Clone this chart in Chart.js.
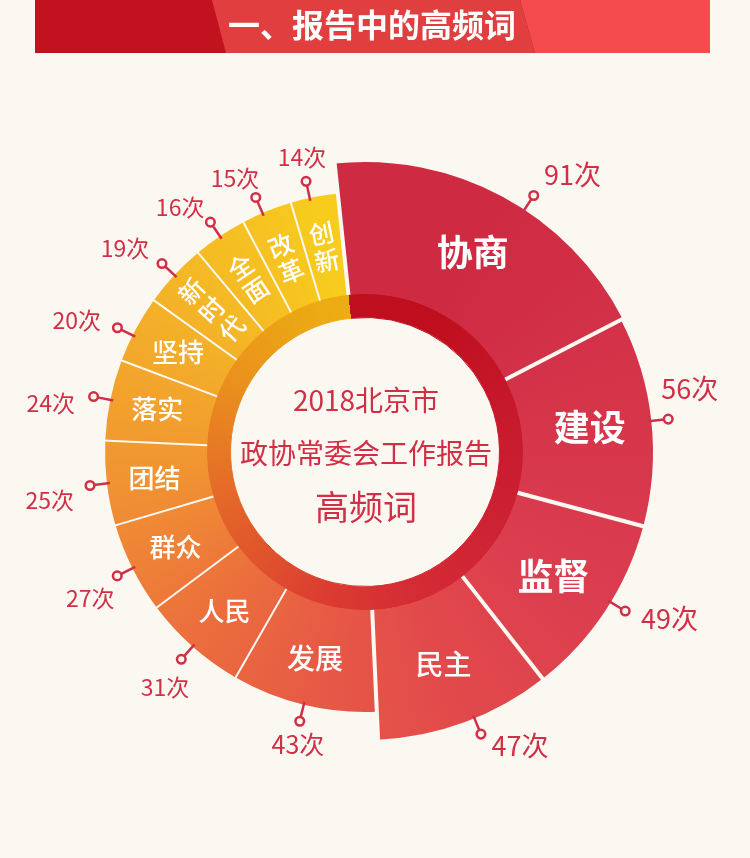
<!DOCTYPE html>
<html>
<head>
<meta charset="utf-8">
<script src="https://cdn.jsdelivr.net/npm/chart.js@4.4.1/dist/chart.umd.min.js"></script>
<style>
html,body{margin:0;padding:0;background:#FBF8F2;}
canvas{display:block;}
</style>
</head>
<body>
<canvas id="c" width="750" height="858"></canvas>
<script>
// ---- data ----
const words = ['协商','建设','监督','民主','发展','人民','群众','团结','落实','坚持','新时代','全面','改革','创新'];
const counts = [91,56,49,47,43,31,27,25,24,20,19,16,15,14];
const countLabels = counts.map(v => v + '次');
const centerLines = ['2018北京市','政协常委会工作报告','高频词'];
const headerTitle = '一、报告中的高频词';

// ---- styles ----
const BG = '#FBF8F2';
const RED_TEXT = '#D12F46';
const FONT = '"Noto Sans CJK SC","Noto Sans",sans-serif';
const sliceColors = ['#CE2B43','#D6354A','#DB3E4F','#E2494B','#E75B45','#EB6D3D','#EE8137','#F09332','#F2A12D','#F3AC2A','#F4B626','#F5BE23','#F6C520','#F7CC1D'];
const ringColors  = ['#BF0F1F','#C81B2E','#CE2334','#D42B35','#DB3B31','#E0512D','#E3612A','#E57226','#E88222','#EA901E','#EB9A1A','#EBA216','#ECA814','#EDAD12'];
const EMPHASIS = 4;              // top words drawn with a larger outer radius
const R_CENTER = 134.5, R_RING = 158, R_MAIN = 288, R_SMALL = 260;
const ROTATION = -6;
const markerShift = [5,0,-2,-2,0,0,0,0,0,-1.5,0,0,-1,-1];
const textShift   = [8.5,-4.9,-4.8,-7.5,-0.7,-1.2,-1.4,-1.8,-2.8,-3.6,-2.5,-3.1,-3.2,-0.8];
const textGap     = [56,43,59,44,40,49,51,59,58,57,55,47,43,41];
const DEG = Math.PI / 180;

// conic gradient through the slice colours, stops at each slice's middle
const gradCache = {};
function conic(chart, colors, key) {
  const a = chart.chartArea;
  if (!a) return colors[0];
  const k = key + a.left + ',' + a.top;
  if (gradCache[k]) return gradCache[k];
  const cx = (a.left + a.right) / 2, cy = (a.top + a.bottom) / 2;
  const total = counts.reduce((s, v) => s + v, 0);
  const g = chart.ctx.createConicGradient((ROTATION - 90) * DEG, cx, cy);
  let cum = 0;
  g.addColorStop(0, colors[0]);
  counts.forEach((v, i) => {
    g.addColorStop((cum + v / 2) / total, colors[i]);
    cum += v;
  });
  g.addColorStop(1, colors[colors.length - 1]);
  gradCache[k] = g;
  return g;
}

const geometry = {
  id: 'geometry',
  afterDatasetUpdate(chart, args) {
    const meta = chart.getDatasetMeta(args.index);
    meta.data.forEach((arc, i) => {
      if (args.index === 0) {
        arc.innerRadius = R_RING;
        arc.outerRadius = i < EMPHASIS ? (i === 0 ? R_MAIN + 2 : R_MAIN) : R_SMALL;
      } else {
        arc.innerRadius = R_CENTER;
        arc.outerRadius = R_RING + 0.5;
      }
    });
  }
};

const decor = {
  id: 'decor',
  beforeDraw(chart) {
    const c = chart.ctx;
    c.save();
    c.fillStyle = BG;
    c.fillRect(0, 0, chart.width, chart.height);
    // header banner
    c.fillStyle = '#C3121F';
    c.fillRect(35, 0, 675, 53);
    c.fillStyle = '#F54A4E';
    c.beginPath(); c.moveTo(520,0); c.lineTo(710,0); c.lineTo(710,53); c.lineTo(535,53); c.closePath(); c.fill();
    c.fillStyle = '#E03E3F';
    c.beginPath(); c.moveTo(212,0); c.lineTo(520,0); c.lineTo(535,53); c.lineTo(226,53); c.closePath(); c.fill();
    c.fillStyle = '#FFFFFF';
    c.font = 'bold 32px ' + FONT;
    c.textAlign = 'center'; c.textBaseline = 'middle';
    c.fillText(headerTitle, 372, 25);
    c.restore();
  },
  afterDatasetsDraw(chart) {
    const c = chart.ctx;
    const arcs = chart.getDatasetMeta(0).data;
    const n = arcs.length;
    const cx = arcs[0].x, cy = arcs[0].y;
    c.save();
    // separators
    c.strokeStyle = BG;
    c.lineCap = 'butt';
    arcs.forEach((a, i) => {
      const p = (i - 1 + n) % n;
      const big = i < EMPHASIS || p < EMPHASIS;
      c.lineWidth = big ? 4 : 2;
      const r2 = Math.max(a.outerRadius, arcs[p].outerRadius) + 2;
      const ang = a.startAngle;
      c.beginPath();
      c.moveTo(cx + Math.cos(ang) * R_RING, cy + Math.sin(ang) * R_RING);
      c.lineTo(cx + Math.cos(ang) * r2, cy + Math.sin(ang) * r2);
      c.stroke();
    });
    // slice words
    c.fillStyle = '#FFFFFF';
    c.textAlign = 'center'; c.textBaseline = 'middle';
    arcs.forEach((a, i) => {
      const mid = (a.startAngle + a.endAngle) / 2;
      const vertical = counts[i] < 20;
      let size, weight;
      if (i < 3) { size = 36; weight = 'bold'; }
      else if (counts[i] >= 40) { size = 28; weight = '500'; }
      else if (!vertical) { size = 26; weight = '500'; }
      else { size = 25; weight = '500'; }
      c.font = weight + ' ' + size + 'px ' + FONT;
      const r = (R_RING + a.outerRadius) / 2 + (vertical ? 0 : 3);
      const x = cx + Math.cos(mid) * r, y = cy + Math.sin(mid) * r;
      if (vertical) {
        c.save();
        c.translate(x, y);
        c.rotate(mid + Math.PI / 2);
        const chars = Array.from(words[i]);
        const lh = size * 1.1;
        chars.forEach((ch, k) => c.fillText(ch, 0, (k - (chars.length - 1) / 2) * lh));
        c.restore();
      } else {
        c.fillText(words[i], x, y);
      }
    });
    // callouts
    arcs.forEach((a, i) => {
      const mid = (a.startAngle + a.endAngle) / 2;
      const ang = mid + markerShift[i] * DEG;
      const ro = a.outerRadius;
      const rm = ro + 17;
      c.strokeStyle = RED_TEXT;
      c.lineWidth = 2.5;
      c.beginPath();
      c.moveTo(cx + Math.cos(ang) * (ro - 3), cy + Math.sin(ang) * (ro - 3));
      c.lineTo(cx + Math.cos(ang) * (rm - 4), cy + Math.sin(ang) * (rm - 4));
      c.stroke();
      c.beginPath();
      c.arc(cx + Math.cos(ang) * rm, cy + Math.sin(ang) * rm, 4.3, 0, Math.PI * 2);
      c.fillStyle = BG; c.fill(); c.stroke();
      const ta = mid + textShift[i] * DEG;
      const tr = ro + textGap[i];
      const size = i < EMPHASIS ? 27 : (counts[i] >= 40 ? 25 : 23);
      c.font = size + 'px ' + FONT;
      c.fillStyle = RED_TEXT;
      c.fillText(countLabels[i], cx + Math.cos(ta) * tr, cy + Math.sin(ta) * tr);
    });
    // center text
    c.fillStyle = RED_TEXT;
    c.font = '28px ' + FONT;
    c.fillText(centerLines[0], cx + 1, cy - 52);
    c.fillText(centerLines[1], cx + 1, cy + 1);
    c.font = '34px ' + FONT;
    c.fillText(centerLines[2], cx + 1, cy + 55);
    c.restore();
  }
};

new Chart(document.getElementById('c'), {
  type: 'doughnut',
  data: {
    labels: words,
    datasets: [
      { data: counts, backgroundColor: (ctx) => conic(ctx.chart, sliceColors, 's'), borderWidth: 0 },
      { data: counts, backgroundColor: (ctx) => conic(ctx.chart, ringColors, 'r'),
        borderColor: (ctx) => conic(ctx.chart, ringColors, 'r'), borderWidth: 1 }
    ]
  },
  options: {
    responsive: false,
    animation: false,
    events: [],
    rotation: ROTATION,
    layout: { padding: { left: 0, right: 20, top: 100, bottom: 54 } },
    plugins: { legend: { display: false }, tooltip: { enabled: false } }
  },
  plugins: [geometry, decor]
});
</script>
</body>
</html>
